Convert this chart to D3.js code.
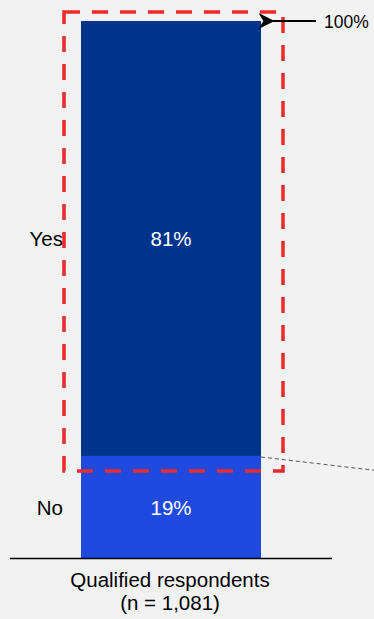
<!DOCTYPE html>
<html><head><meta charset="utf-8">
<script src="https://cdn.jsdelivr.net/npm/d3@7"></script>
<style>html,body{margin:0;padding:0;background:#f2f2f2;}svg{display:block;font-family:"Liberation Sans",Arial,sans-serif;}</style>
</head><body>
<script>
const categories = ["Qualified respondents"];
const sampleLabels = ["(n = 1,081)"];
const segments = ["No", "Yes"];
const values = [19, 81];
const colors = ["#2049e0", "#00338c"];
const totalLabel = "100%";

const W = 374, H = 619;
const svg = d3.select("body").append("svg").attr("width", W).attr("height", H);
svg.append("rect").attr("width", W).attr("height", H).attr("fill", "#f2f2f2");

const y = d3.scaleLinear().domain([0, 100]).range([558, 21]);

let stacked = [];
let acc = 0;
segments.forEach((s, i) => { stacked.push({name: s, v: values[i], y0: acc, y1: acc + values[i], color: colors[i]}); acc += values[i]; });

const x = d3.scaleBand().domain(categories).range([81, 261]);
const bx0 = x(categories[0]), bx1 = bx0 + x.bandwidth();
const cx = (bx0 + bx1) / 2;
const FS = 20.5;

svg.selectAll("rect.seg").data(stacked).join("rect").attr("class","seg")
  .attr("x", bx0).attr("width", bx1 - bx0)
  .attr("y", d => y(d.y1)).attr("height", d => y(d.y0) - y(d.y1))
  .attr("fill", d => d.color);

svg.selectAll("text.val").data(stacked).join("text").attr("class","val")
  .attr("x", cx).attr("y", d => y((d.y0+d.y1)/2) + 8)
  .attr("text-anchor","middle").attr("fill","#fff").attr("font-size", FS)
  .text(d => d.v + "%");

svg.selectAll("text.seglab").data(stacked).join("text").attr("class","seglab")
  .attr("x", 63).attr("y", d => y((d.y0+d.y1)/2) + 8)
  .attr("text-anchor","end").attr("fill","#000").attr("font-size", FS)
  .text(d => d.name);

// baseline
svg.append("line").attr("x1", 10).attr("x2", 332).attr("y1", y(0)+0.5).attr("y2", y(0)+0.5)
  .attr("stroke","#000").attr("stroke-width",1.5);

// category label
svg.append("text").attr("x", cx - 1).attr("y", 587).attr("text-anchor","middle").attr("font-size",FS).text(categories[0]);
svg.append("text").attr("x", cx - 1).attr("y", 610).attr("text-anchor","middle").attr("font-size",FS).text(sampleLabels[0]);

// dashed red highlight around Yes
const yes = stacked[1];
svg.append("rect").attr("x", 64).attr("y", y(yes.y1) - 9).attr("width", 219).attr("height", (y(yes.y0) - y(yes.y1)) + 24)
  .attr("fill","none").attr("stroke","#ee2a2a").attr("stroke-width",3.5).attr("stroke-dasharray","16,12");

// dashed gray connector
svg.append("line").attr("x1", bx1).attr("y1", y(yes.y0)+1).attr("x2", 380).attr("y2", y(yes.y0)+15)
  .attr("stroke","#555").attr("stroke-width",1).attr("stroke-dasharray","4,3");

// 100% arrow
svg.append("defs").append("marker").attr("id","ah").attr("viewBox","0 0 10 10").attr("refX",1).attr("refY",5)
  .attr("markerWidth",8).attr("markerHeight",8).attr("markerUnits","strokeWidth").attr("orient","auto")
  .append("path").attr("d","M10,0 L0,5 L10,10 L7,5 Z").attr("fill","#000");
svg.append("line").attr("x1", 316).attr("x2", 273).attr("y1", y(100)).attr("y2", y(100))
  .attr("stroke","#000").attr("stroke-width",2).attr("marker-end","url(#ah)");
svg.append("text").attr("x", 324).attr("y", y(100)+7).attr("font-size",17.5).text(totalLabel);
</script>
</body></html>
